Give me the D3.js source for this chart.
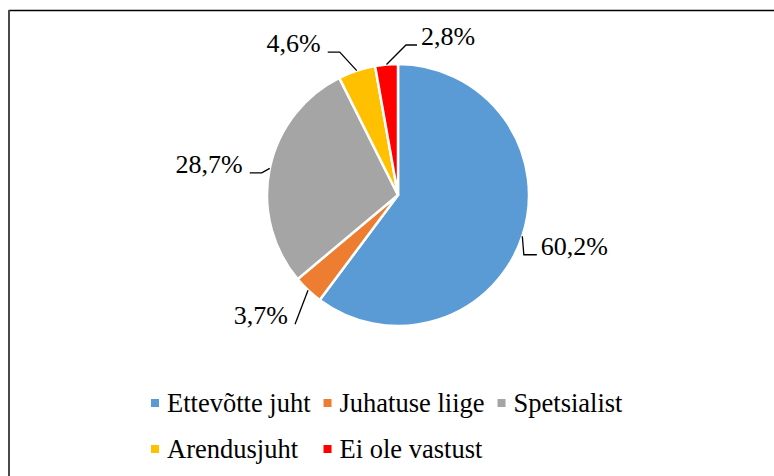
<!DOCTYPE html>
<html lang="et">
<head>
    <meta charset="UTF-8">
    <title>Vastajate ametikoht</title>
    <script src="https://d3js.org/d3.v7.min.js"></script>
    <style>
        body {
            margin: 0;
            background: #fff;
            font-family: "Liberation Serif", "Times New Roman", serif;
        }
        .slice {
            stroke: #fff;
            stroke-width: 2.5px;
        }
        .leader {
            fill: none;
            stroke: #000;
            stroke-width: 1.3px;
        }
    </style>
</head>
<body>
    <div id="chart"></div>

    <script>
        // data
        const categories = ["Ettevõtte juht", "Juhatuse liige", "Spetsialist", "Arendusjuht", "Ei ole vastust"];
        const shares = [60.2, 3.7, 28.7, 4.6, 2.8];
        const colors = ["#5B9BD5", "#ED7D31", "#A5A5A5", "#FFC000", "#FF0000"];

        // label leader layout: knee offset from the slice edge, then horizontal tail
        const kneeOffsets = [[1.5, 18.5], [-13, 34], [-8, 4.5], [-17, -18.5], [19.5, -19.5]];
        const tailLengths = [13, 0, -12, -12, 11];

        const width = 774;
        const height = 476;
        const cx = 398;
        const cy = 195;
        const radius = 131;
        const font = "Liberation Serif, Times New Roman, serif";

        const svg = d3.select("#chart")
            .append("svg")
            .attr("width", width)
            .attr("height", height)
            .attr("font-family", font)
            .attr("font-size", 26);

        // chart frame (only top and left edges are visible)
        svg.append("line")
            .attr("x1", 9).attr("y1", 10.5).attr("x2", width).attr("y2", 10.5)
            .attr("stroke", "#000").attr("stroke-width", 1.5);
        svg.append("line")
            .attr("x1", 9).attr("y1", 10).attr("x2", 9).attr("y2", height)
            .attr("stroke", "#4a4a4a").attr("stroke-width", 2);

        const pieData = categories.map((c, i) => ({ cause: c, value: shares[i], i: i }));

        const pie = d3.pie().value(d => d.value).sort(null);
        const arc = d3.arc().innerRadius(0).outerRadius(radius);
        const arcs = pie(pieData);

        const g = svg.append("g")
            .attr("transform", `translate(${cx}, ${cy})`);

        g.selectAll(".slice")
            .data(arcs)
            .enter()
            .append("path")
            .attr("class", "slice")
            .attr("d", arc)
            .attr("fill", d => colors[d.data.i]);

        // labels
        arcs.forEach((d, i) => {
            const mid = (d.startAngle + d.endAngle) / 2;
            const ex = Math.sin(mid) * radius;
            const ey = -Math.cos(mid) * radius;
            const kx = ex + kneeOffsets[i][0];
            const ky = ey + kneeOffsets[i][1];
            const tx = kx + tailLengths[i];

            g.append("path")
                .attr("class", "leader")
                .attr("d", d3.line()([[ex, ey], [kx, ky], [tx, ky]]));

            const right = tx > kx || (tailLengths[i] === 0 && kx > 0);
            g.append("text")
                .attr("x", right ? tx + 4 : tx - 7)
                .attr("y", ky)
                .attr("text-anchor", right ? "start" : "end")
                .text(d.data.value.toFixed(1).replace(".", ",") + "%");
        });

        // legend: 3 columns, 2 rows
        const legendCols = 3;
        const legendX = 151;
        const rowY = [403, 449];
        const legend = svg.append("g")
            .attr("font-size", 26.5);

        const items = legend.selectAll(".legend-item")
            .data(pieData)
            .enter()
            .append("g")
            .attr("class", "legend-item");

        items.append("rect")
            .attr("width", 8)
            .attr("height", 8)
            .attr("fill", d => colors[d.i]);

        items.append("text")
            .attr("x", 16)
            .attr("y", 4)
            .attr("dy", "0.35em")
            .text(d => d.cause);

        // column widths from the widest text in each column
        const colWidth = d3.range(legendCols).map(c => d3.max(
            items.filter(d => d.i % legendCols === c).select("text").nodes(),
            n => n.getComputedTextLength()
        ));
        const colX = [legendX];
        for (let c = 1; c < legendCols; c++) {
            colX.push(colX[c - 1] + 16 + colWidth[c - 1] + 13);
        }

        items.attr("transform", d =>
            `translate(${colX[d.i % legendCols]}, ${rowY[Math.floor(d.i / legendCols)] - 4})`);
    </script>
</body>
</html>
